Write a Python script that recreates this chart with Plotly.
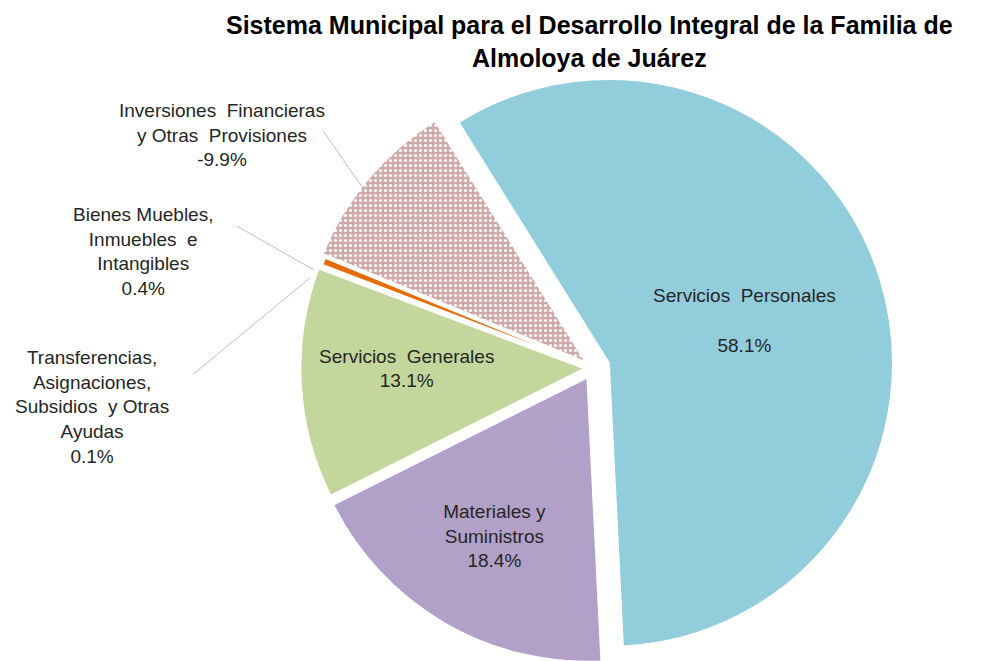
import plotly.graph_objects as go

# ---- data ----
categories = [
    "Servicios Personales",
    "Materiales y Suministros",
    "Servicios Generales",
    "Transferencias, Asignaciones, Subsidios y Otras Ayudas",
    "Bienes Muebles, Inmuebles e Intangibles",
    "Inversiones Financieras y Otras Provisiones",
]
pct = [58.1, 18.4, 13.1, 0.1, 0.4, -9.9]
label_lines = [
    ["Servicios\u00a0 Personales", ""],
    ["Materiales y", "Suministros"],
    ["Servicios\u00a0 Generales"],
    ["Transferencias,", "Asignaciones,", "Subsidios\u00a0 y Otras", "Ayudas"],
    ["Bienes Muebles,", "Inmuebles\u00a0 e", "Intangibles"],
    ["Inversiones\u00a0 Financieras", "y Otras\u00a0 Provisiones"],
]
colors = ["#92CDDC", "#B1A0C7", "#C3D69B", "#FAC090", "#E46C0A", "#CFA9A7"]
pulls = [0.06, 0.04, 0.03, 0.02, 0.02, 0.035]
inside = [True, True, True, False, False, False]

sizes = [abs(v) for v in pct]
texts = ["<br>".join(l + [f"{v:.1f}%"]) for l, v in zip(label_lines, pct)]
trace_text = [t if ins else "" for t, ins in zip(texts, inside)]

FONT = "Liberation Sans, Arial, sans-serif"
TXT = "#262626"
FS = 19

fig = go.Figure(
    go.Pie(
        labels=categories,
        values=sizes,
        text=trace_text,
        textinfo="text",
        textposition=["inside" if i else "none" for i in inside],
        insidetextorientation="horizontal",
        textfont=dict(family=FONT, size=FS, color=TXT),
        sort=False,
        direction="clockwise",
        rotation=-32,
        pull=pulls,
        marker=dict(
            colors=colors,
            line=dict(color="white", width=1.5),
            pattern=dict(
                shape=["", "", "", "", "", "."],
                fgcolor="white",
                bgcolor=colors,
                size=5,
                solidity=0.3,
            ),
        ),
        domain=dict(x=[0.283, 0.882], y=[0.0, 0.9107]),
        showlegend=False,
        hoverinfo="label+text",
    )
)

# outside labels: text block centre, and leader line (tip -> tail), in px
W, H = 1004, 661
outside_specs = {
    5: dict(center=(214, 127), tip=(355, 180), tail=(313, 120)),
    4: dict(center=(135, 243), tip=(306, 262), tail=(227, 217)),
    3: dict(center=(84, 399), tip=(302, 270), tail=(183, 368)),
}
annotations = []
for idx, spec in outside_specs.items():
    cx, cy = spec["center"]
    tx, ty = spec["tip"]
    lx, ly = spec["tail"]
    annotations.append(
        dict(
            x=cx / W, y=1 - cy / H, xref="paper", yref="paper",
            text=texts[idx], showarrow=False, align="center",
            xanchor="center", yanchor="middle",
            font=dict(family=FONT, size=FS, color=TXT),
        )
    )
    annotations.append(
        dict(
            x=tx / W, y=1 - ty / H, xref="paper", yref="paper",
            ax=(lx - tx), ay=(ly - ty), axref="pixel", ayref="pixel",
            text=" ", showarrow=True, arrowhead=0, arrowwidth=1,
            arrowcolor="#BFBFBF", font=dict(size=2),
        )
    )

fig.update_layout(
    width=W, height=H,
    margin=dict(l=0, r=0, t=0, b=0),
    paper_bgcolor="white",
    plot_bgcolor="white",
    title=dict(
        text="Sistema Municipal para el Desarrollo Integral de la Familia de<br>Almoloya de Juárez",
        x=0.579, xanchor="center", xref="paper",
        y=1 - 26 / H, yanchor="top", yref="container",
        font=dict(family=FONT, size=25, color="#000000", weight="bold"),
    ),
    annotations=annotations,
)

fig.write_html("out.html")
